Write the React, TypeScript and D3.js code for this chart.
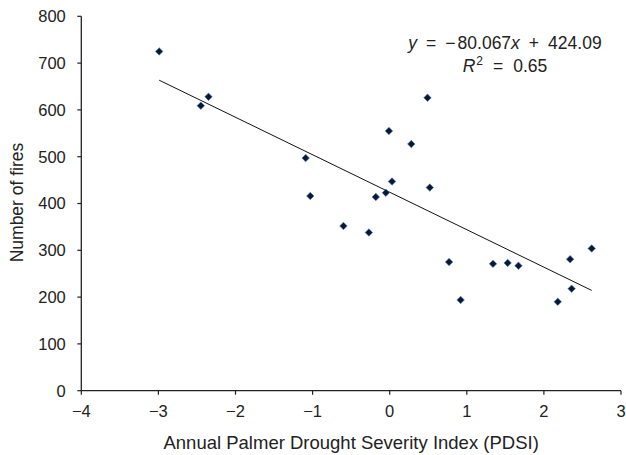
import React from "react";
import * as d3 from "d3";

const pdsi = [-2.99, -2.45, -2.35, -1.09, -1.03, -0.6, -0.27, -0.18, -0.05, -0.01, 0.03, 0.28, 0.49, 0.52, 0.77, 0.92, 1.34, 1.53, 1.67, 2.18, 2.34, 2.36, 2.62];
const fires = [725, 609, 628, 497, 416, 352, 338, 414, 423, 555, 447, 527, 626, 434, 275, 194, 271, 273, 267, 190, 281, 218, 304];
const xTicks = [-4, -3, -2, -1, 0, 1, 2, 3];
const yTicks = [0, 100, 200, 300, 400, 500, 600, 700, 800];
const slope = -80.067;
const intercept = 424.09;

const W = 626;
const H = 455;
const FONT = "'Liberation Sans', Arial, Helvetica, sans-serif";

export default function App() {
  const x = d3.scaleLinear().domain([-4, 3]).range([81.3, 621]);
  const y = d3.scaleLinear().domain([0, 800]).range([390.7, 16.3]);
  const xMin = d3.min(pdsi) as number;
  const xMax = d3.max(pdsi) as number;
  const fmt = (v: number) => (v < 0 ? "\u2212" + Math.abs(v) : String(v));
  const diamond = d3.symbol().type(d3.symbolSquare).size(28)() as string;
  const axisColor = "#222";
  const textColor = "#222";
  return (
    <svg width={W} height={H} style={{ position: "absolute", left: 0, top: 0, background: "#fff" }}>
      <g fontFamily={FONT} fill={textColor}>
        {/* axes */}
        <line x1={x(-4)} x2={x(-4)} y1={y(800)} y2={y(0)} stroke={axisColor} strokeWidth={1.3} />
        <line x1={x(-4)} x2={x(3)} y1={y(0)} y2={y(0)} stroke={axisColor} strokeWidth={1.3} />
        {yTicks.map((t) => (
          <g key={"y" + t}>
            <line x1={x(-4) - 4} x2={x(-4)} y1={y(t)} y2={y(t)} stroke={axisColor} strokeWidth={1.2} />
            <text x={x(-4) - 15.5} y={y(t)} dy="0.36em" textAnchor="end" fontSize={16.5}>
              {t}
            </text>
          </g>
        ))}
        {xTicks.map((t) => (
          <g key={"x" + t}>
            <line x1={x(t)} x2={x(t)} y1={y(0)} y2={y(0) + 4} stroke={axisColor} strokeWidth={1.2} />
            <text x={x(t)} y={416.5} textAnchor="middle" fontSize={16.5}>
              {fmt(t)}
            </text>
          </g>
        ))}
        <text x={(x(-4) + x(3)) / 2} y={449} textAnchor="middle" fontSize={18.5}>
          Annual Palmer Drought Severity Index (PDSI)
        </text>
        <text transform={`translate(23.3,${(y(0) + y(800)) / 2 - 1}) rotate(-90)`} textAnchor="middle" fontSize={17.5}>
          Number of fires
        </text>
        {/* trend line */}
        <line
          x1={x(xMin)}
          y1={y(slope * xMin + intercept)}
          x2={x(xMax)}
          y2={y(slope * xMax + intercept)}
          stroke="#111"
          strokeWidth={1}
        />
        {/* points */}
        {pdsi.map((v, i) => (
          <path
            key={i}
            d={diamond}
            transform={`translate(${x(v)},${y(fires[i])}) rotate(45)`}
            fill="#0b1830"
            stroke="#4a7fc0"
            strokeWidth={0.6}
          />
        ))}
        {/* equation */}
        <text x={505} y={49} textAnchor="middle" fontSize={17.5}>
          <tspan fontStyle="italic">y</tspan>
          <tspan dx={9}>=</tspan>
          <tspan dx={9}>{"\u2212"}</tspan>
          <tspan dx={2}>80.067</tspan>
          <tspan fontStyle="italic">x</tspan>
          <tspan dx={9}>+</tspan>
          <tspan dx={9}>424.09</tspan>
        </text>
        <text x={505} y={72} textAnchor="middle" fontSize={17.5}>
          <tspan fontStyle="italic">R</tspan>
          <tspan dy={-7} dx={1} fontSize={12}>2</tspan>
          <tspan dy={7} dx={10}>=</tspan>
          <tspan dx={10}>0.65</tspan>
        </text>
      </g>
    </svg>
  );
}
